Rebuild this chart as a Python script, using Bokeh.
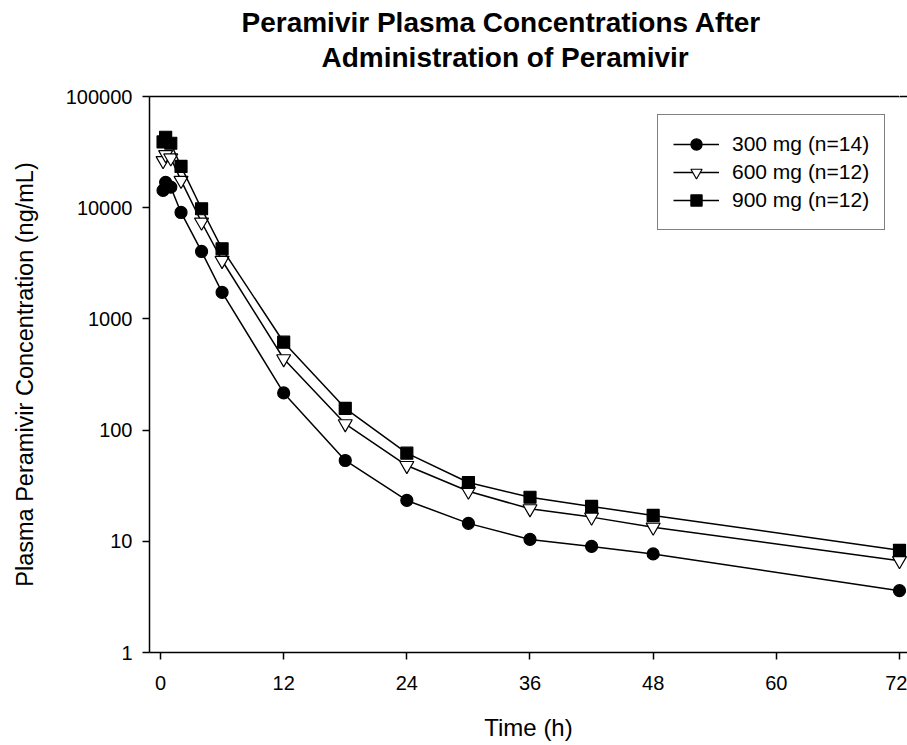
from bokeh.plotting import figure
from bokeh.models import Title, LinearAxis, FixedTicker, NumeralTickFormatter
from bokeh.embed import file_html
from bokeh.resources import INLINE

# ---- data ----
time_h = [0.25, 0.5, 1, 2, 4, 6, 12, 18, 24, 30, 36, 42, 48, 72]
conc_300 = [14300, 16900, 15300, 9060, 4040, 1730, 216, 53.3, 23.3, 14.5, 10.4, 9.0, 7.7, 3.6]
conc_600 = [26500, 30000, 28000, 17600, 7400, 3350, 438, 114, 48, 28.2, 19.6, 16.5, 13.4, 6.7]
conc_900 = [39000, 43000, 38000, 23500, 9780, 4270, 617, 157, 62, 33.8, 24.9, 20.6, 17.1, 8.3]
series_labels = ["300 mg (n=14)", "600 mg (n=12)", "900 mg (n=12)"]
x_ticks = [0, 12, 24, 36, 48, 60, 72]
y_ticks = [1, 10, 100, 1000, 10000, 100000]
title_line1 = "Peramivir Plasma Concentrations After"
title_line2 = "Administration of Peramivir"
x_label = "Time (h)"
y_label = "Plasma Peramivir Concentration (ng/mL)"

FONT = "Liberation Sans"

p = figure(width=907, height=745, x_range=(-1.072, 72.78), y_range=(1, 100000),
           y_axis_type="log", output_backend="svg", toolbar_location=None,
           title=None, min_border_left=149, min_border_right=0,
           min_border_top=96, min_border_bottom=93,
           background_fill_color="white", border_fill_color="white")
p.outline_line_color = None
p.xgrid.visible = False
p.ygrid.visible = False

xax = p.below[0]
yax = p.left[0]

# top frame line; its (invisible, white) tick keeps a gap between frame and title
top_axis = LinearAxis(ticker=FixedTicker(ticks=[72]), axis_line_color="black",
                      axis_line_width=1.5, major_tick_in=0, major_tick_out=22,
                      major_tick_line_color="white", minor_tick_line_color=None,
                      major_label_standoff=0, major_label_overrides={72: ""})
p.add_layout(top_axis, "above")

# two-line title (second line added first so it sits closer to the plot)
t2 = Title(text=title_line2, align="left", offset=172, text_font=FONT,
           text_font_size="28px", text_font_style="bold", text_color="black", standoff=4)
t1 = Title(text=title_line1, align="left", offset=92, text_font=FONT,
           text_font_size="28px", text_font_style="bold", text_color="black", standoff=0)
p.add_layout(t2, "above")
p.add_layout(t1, "above")

styles = [
    dict(marker="circle", fill_color="black"),
    dict(marker="inverted_triangle", fill_color="white"),
    dict(marker="square", fill_color="black"),
]
sizes = [12, 14, 12]
for ys, lab, st, sz in zip([conc_300, conc_600, conc_900], series_labels, styles, sizes):
    p.line(time_h, ys, line_color="black", line_width=1.5, legend_label=lab)
    p.scatter(time_h, ys, marker=st["marker"], size=sz, fill_color=st["fill_color"],
              line_color="black", line_width=1.2, legend_label=lab)

# axes
for ax in (xax, yax):
    ax.axis_line_color = "black"
    ax.axis_line_width = 1.5
    ax.major_tick_line_color = "black"
    ax.major_tick_line_width = 1.5
    ax.major_tick_in = 0
    ax.major_tick_out = 7
    ax.minor_tick_line_color = None
    ax.major_label_text_font = FONT
    ax.major_label_text_font_size = "20px"
    ax.major_label_text_color = "black"
    ax.axis_label_text_font = FONT
    ax.axis_label_text_font_style = "normal"
    ax.axis_label_text_color = "black"

xax.ticker = FixedTicker(ticks=x_ticks)
yax.ticker = FixedTicker(ticks=y_ticks)
yax.formatter = NumeralTickFormatter(format="0")
xax.axis_label = x_label
yax.axis_label = y_label
xax.axis_label_text_font_size = "24px"
yax.axis_label_text_font_size = "23.5px"
xax.major_label_standoff = 16
xax.axis_label_standoff = 21
yax.major_label_standoff = 10
yax.axis_label_standoff = 25

# legend
lg = p.legend[0]
lg.location = (508, 422)
lg.label_text_font = FONT
lg.label_text_font_size = "21px"
lg.label_text_color = "black"
lg.border_line_color = "black"
lg.border_line_width = 1.5
lg.background_fill_color = "white"
lg.background_fill_alpha = 1.0
lg.padding = 15
lg.spacing = 0
lg.margin = 0
lg.glyph_width = 46
lg.glyph_height = 28
lg.label_height = 28
lg.label_standoff = 13

open("out.html", "w").write(file_html(p, INLINE))
